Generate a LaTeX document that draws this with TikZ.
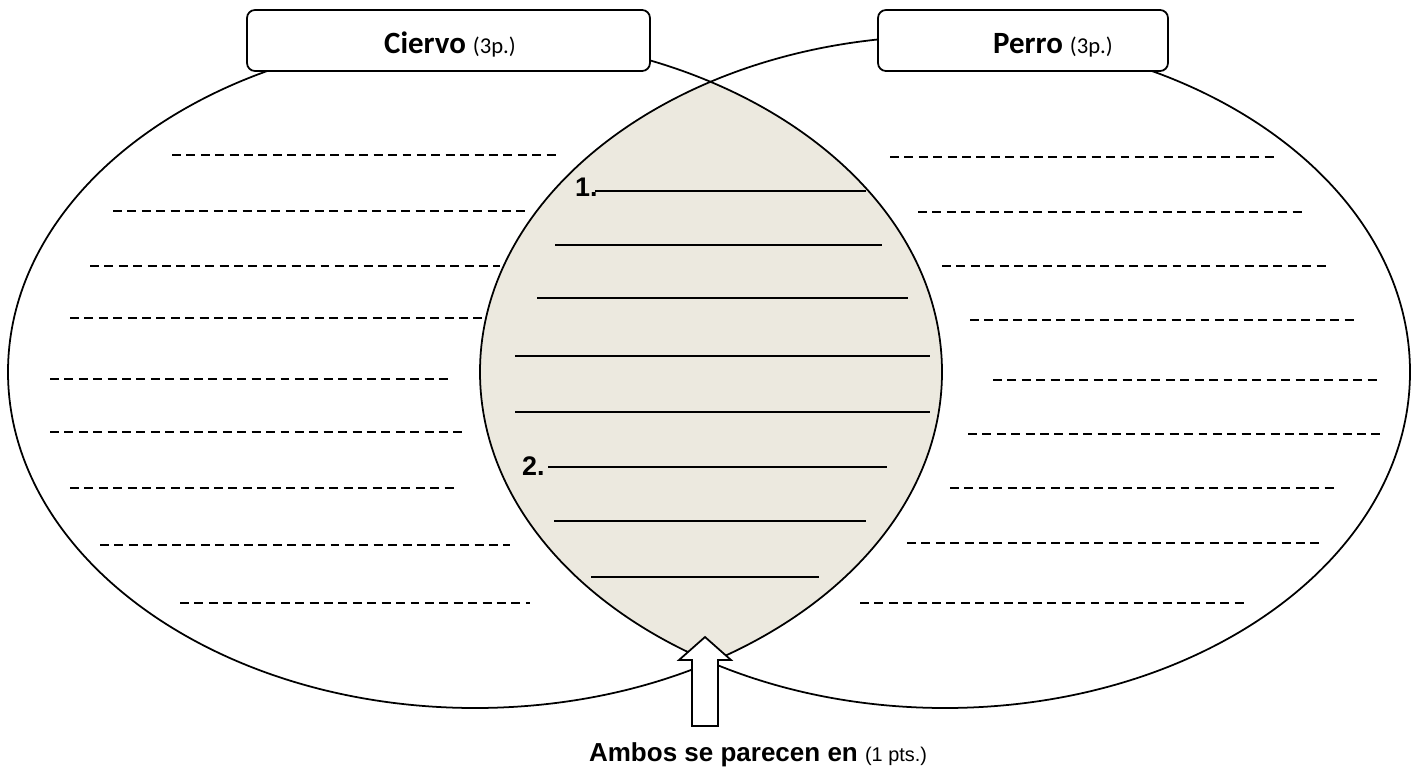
\documentclass[tikz,border=0pt]{standalone}
\usepackage{fontspec}
\setmainfont{Liberation Sans}
\newfontfamily\calibri{Carlito}
\usepackage{xcolor}
\definecolor{lensgray}{RGB}{236,233,223}
\tikzset{
  venn/.style={line width=1pt},
  titlebox/.style={draw, line width=1pt, rounded corners=4.5pt, fill=white, inner sep=0pt},
  guessline/.style={line width=1.1pt, dash pattern=on 5.1pt off 3.1pt},
  answerline/.style={line width=1.1pt},
  uparrow/.style={draw, line width=1pt, fill=white}
}

\begin{document}
\begin{tikzpicture}[x=0.02cm, y=-0.02cm]
	\useasboundingbox (0,0) rectangle (1417,774);
	% shared part of both animals
	\begin{scope}
		\clip (475,372) ellipse [x radius=467, y radius=336];
		\fill[lensgray] (945,372) ellipse [x radius=465, y radius=336];
	\end{scope}
	\draw[venn] (475,372) ellipse [x radius=467, y radius=336];
	\draw[venn] (945,372) ellipse [x radius=465, y radius=336];
	% titles
	\node[titlebox, minimum width=8.06cm, minimum height=1.22cm] (ciervo) at (448.5,40.5) {};
	\node[anchor=base] (ciervotxt) at (450,53) {\calibri\fontsize{17.6}{20}\selectfont\bfseries Ciervo \fontsize{12.9}{15}\selectfont\mdseries(3p.)};
	\node[titlebox, minimum width=5.8cm, minimum height=1.22cm] (perro) at (1023,40.5) {};
	\node[anchor=base] (perrotxt) at (1053,53) {\calibri\fontsize{17.6}{20}\selectfont\bfseries Perro \fontsize{12.9}{15}\selectfont\mdseries(3p.)};
	% Ciervo lines
	\draw[guessline] (172,155) -- (557,155);
	\draw[guessline] (113,211) -- (525,211);
	\draw[guessline] (90,266) -- (500,266);
	\draw[guessline] (70,318) -- (482,318);
	\draw[guessline] (50,379) -- (452,379);
	\draw[guessline] (50,432) -- (465,432);
	\draw[guessline] (70,488) -- (455,488);
	\draw[guessline] (100,545) -- (510,545);
	\draw[guessline] (180,603) -- (530,603);
	% Perro lines
	\draw[guessline] (890,157) -- (1277,157);
	\draw[guessline] (918,212) -- (1305,212);
	\draw[guessline] (942,266) -- (1328,266);
	\draw[guessline] (970,320) -- (1356,320);
	\draw[guessline] (993,380) -- (1380,380);
	\draw[guessline] (968,434) -- (1382,434);
	\draw[guessline] (950,488) -- (1338,488);
	\draw[guessline] (907,543) -- (1322,543);
	\draw[guessline] (860,603) -- (1246,603);
	% answer lines
	\draw[answerline] (595,191) -- (866,191);
	\draw[answerline] (555,245) -- (882,245);
	\draw[answerline] (537,298) -- (908,298);
	\draw[answerline] (515,356) -- (930,356);
	\draw[answerline] (515,412) -- (930,412);
	\draw[answerline] (548,467) -- (887,467);
	\draw[answerline] (554,521) -- (866,521);
	\draw[answerline] (591,577) -- (819,577);
	\node[anchor=base east, inner sep=0pt] (uno) at (598,196) {\fontsize{15.3}{18}\selectfont\bfseries 1.};
	\node[anchor=base east, inner sep=0pt] (dos) at (545,475) {\fontsize{15.3}{18}\selectfont\bfseries 2.};
	% arrow and caption
	\draw[uparrow] (705,637) -- (731,660) -- (718,660) -- (718,726) -- (692,726) -- (692,660) -- (679,660) -- cycle;
	\node[anchor=base] (ambos) at (758,761) {\fontsize{14.8}{18}\selectfont\bfseries Ambos se parecen en \fontsize{11.3}{13}\selectfont\mdseries(1 pts.)};
\end{tikzpicture}
\end{document}
